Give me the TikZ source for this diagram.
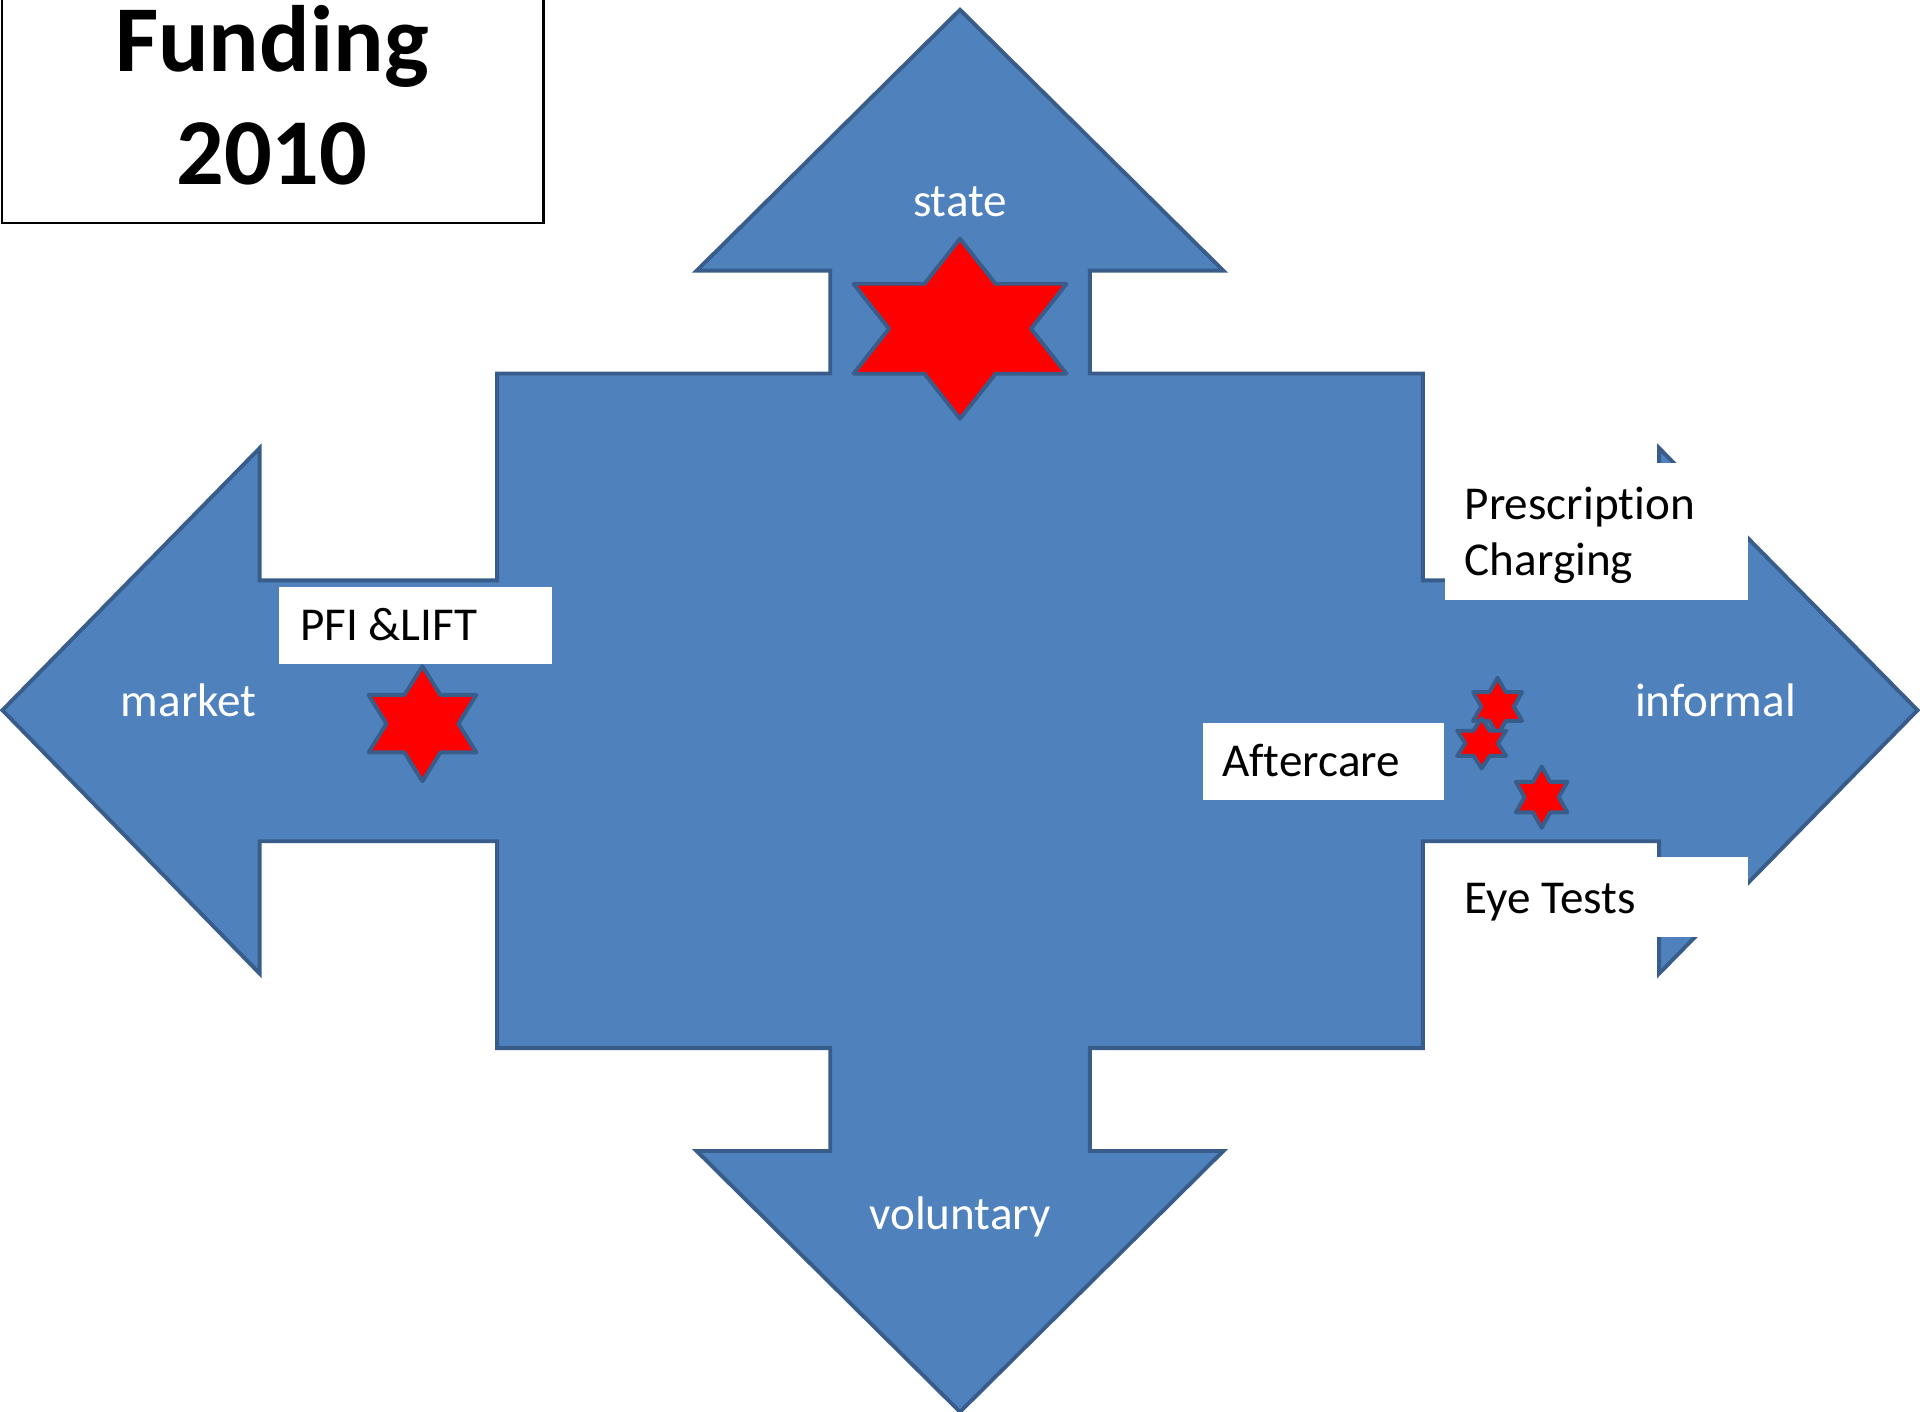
\documentclass[tikz,border=0pt]{standalone}
\usepackage{fontspec}
\setmainfont{Carlito}[Ligatures=NoCommon]
\definecolor{arrowfill}{HTML}{4F81BD}
\definecolor{arrowline}{HTML}{385D8A}
\tikzset{
  crossshape/.style={fill=arrowfill, draw=arrowline, line width=3.2pt, line join=miter},
  starshape/.style={fill=red, draw=arrowline, line width=3.2pt, line join=round},
  wbox/.style={fill=white, draw=none, inner sep=0pt, anchor=north west},
  wlbl/.style={text=white, inner sep=0pt, font=\fontsize{38.5}{46}\selectfont},
  blbl/.style={text=black, inner sep=0pt, anchor=base west, font=\fontsize{38.5}{46}\selectfont},
  ttl/.style={text=black, inner sep=0pt, anchor=base, font=\fontsize{77}{92}\selectfont\bfseries},
}
\newcommand\mystar[5]{%
  \coordinate (#1) at (#2,#3);
  \begin{scope}[shift={(#1)}, xscale=#4, yscale=#5]
    \draw[starshape] (0,1) -- (1/3,0.5) -- (1,0.5) -- (2/3,0) -- (1,-0.5) -- (1/3,-0.5)
      -- (0,-1) -- (-1/3,-0.5) -- (-1,-0.5) -- (-2/3,0) -- (-1,0.5) -- (-1/3,0.5) -- cycle;
  \end{scope}}
\begin{document}
\begin{tikzpicture}[x=1pt,y=-1pt]
\useasboundingbox (0,0) rectangle (1568,1153);
% cross of four arrows
\draw[crossshape]
  (784,8) -- (999,221) -- (890,221) -- (890,305) -- (1162,305) -- (1162,474)
  -- (1355,474) -- (1355,366) -- (1566,580) -- (1355,795) -- (1355,687)
  -- (1162,687) -- (1162,856) -- (890,856) -- (890,940) -- (999,940)
  -- (784,1153) -- (569,940) -- (678,940) -- (678,856) -- (406,856)
  -- (406,687) -- (212,687) -- (212,795) -- (2,580) -- (212,366)
  -- (212,474) -- (406,474) -- (406,305) -- (678,305) -- (678,221)
  -- (569,221) -- cycle;
% white label boxes
\node[wbox, minimum width=223pt, minimum height=63pt] (pfibox) at (228,479) {};
\node[wbox, minimum width=197pt, minimum height=63pt] (afterbox) at (982,590) {};
\node[wbox, minimum width=247pt, minimum height=112pt] (presbox) at (1180,378) {};
\node[wbox, minimum width=247pt, minimum height=65pt] (eyebox) at (1180,700) {};
% stars
\mystar{bigstar}{784}{268.5}{87}{73.5}
\mystar{mstar}{345}{591}{44}{47}
\mystar{sa}{1223}{577}{20}{23.5}
\mystar{sb}{1210}{607}{20}{20.5}
\mystar{sc}{1259}{651}{21}{25}
% arrow labels
\node[wlbl, anchor=base] (state) at (784,177) {state};
\node[wlbl, anchor=base] (voluntary) at (784,1004) {voluntary};
\node[wlbl, anchor=base] (market) at (154,585) {market};
\node[wlbl, anchor=base] (informal) at (1401,585) {informal};
% box labels
\node[blbl] (pfi) at (245,523) {PFI \&LIFT};
\node[blbl] (after) at (998,634) {Aftercare};
\node[blbl] (pres) at (1196,424) {Prescription};
\node[blbl] (charg) at (1196,470) {Charging};
\node[blbl] (eye) at (1196,746) {Eye Tests};
% title box
\draw[line width=2pt] (1.5,-10) rectangle (444,182);
\node[ttl] (fund) at (222,58) {Funding};
\node[ttl] (year) at (222,151) {2010};
\end{tikzpicture}
\end{document}
